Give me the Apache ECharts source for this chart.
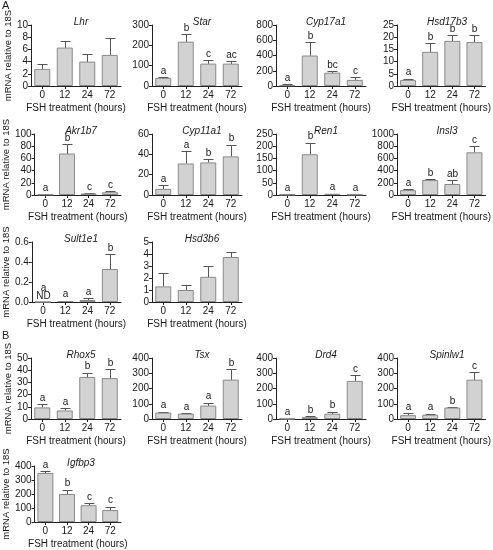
<!DOCTYPE html>
<html><head><meta charset="utf-8">
<script src="https://cdn.jsdelivr.net/npm/echarts@6/dist/echarts.min.js"></script>
<style>html,body{margin:0;padding:0;background:#fff}#c{width:493px;height:550px}</style>
</head><body><div id="c"></div>
<script>
const categories = ['0', '12', '24', '72'];
const genes = ['Lhr','Star','Cyp17a1','Hsd17b3','Akr1b7','Cyp11a1','Ren1','Insl3','Sult1e1','Hsd3b6','Rhox5','Tsx','Drd4','Spinlw1','Igfbp3'];
const means = [
  [2.8, 6.3, 4.0, 5.1],
  [40, 218, 110, 110],
  [10, 400, 175, 80],
  [2.5, 14, 18.5, 18],
  [1, 68, 2.5, 4.5],
  [6, 31, 32, 38],
  [2, 167, 5, 2],
  [80, 245, 180, 700],
  [0, 0.01, 0.02, 0.33],
  [1.3, 1.0, 2.1, 3.75],
  [9.5, 7, 34.5, 33.5],
  [42, 35, 88, 258],
  [2, 12, 35, 250],
  [25, 28, 75, 258],
  [350, 200, 120, 85]
];
const sems = [
  [0.8, 1.0, 1.2, 2.7],
  [5, 37, 18, 13],
  [10, 175, 25, 40],
  [0.5, 3.5, 2.5, 3],
  [1, 16, 0.5, 1.5],
  [3.5, 12, 3, 11.5],
  [1, 48, 1, 1],
  [15, 20, 65, 100],
  [0, 0.005, 0.02, 0.15],
  [1.1, 0.4, 0.9, 0.4],
  [2.5, 2, 3.5, 7.5],
  [6, 5, 20, 70],
  [1, 5, 13, 40],
  [15, 7, 3, 50],
  [12, 32, 15, 25]
];
const letters = [
  ['', '', '', ''],
  ['a', 'b', 'c', 'ac'],
  ['a', 'b', 'bc', 'c'],
  ['a', 'b', 'b', 'b'],
  ['a', 'b', 'c', 'c'],
  ['a', 'a', 'b', 'b'],
  ['a', 'b', 'a', 'a'],
  ['a', 'b', 'ab', 'c'],
  ['a', 'a', 'a', 'b'],
  ['', '', '', ''],
  ['a', 'a', 'b', 'b'],
  ['a', 'a', 'a', 'b'],
  ['a', 'b', 'b', 'c'],
  ['a', 'a', 'b', 'c'],
  ['a', 'b', 'c', 'c']
];
const notes = [
  ['', '', '', ''], ['', '', '', ''], ['', '', '', ''], ['', '', '', ''],
  ['', '', '', ''], ['', '', '', ''], ['', '', '', ''], ['', '', '', ''],
  ['ND', '', '', ''], ['', '', '', ''], ['', '', '', ''], ['', '', '', ''],
  ['', '', '', ''], ['', '', '', ''], ['', '', '', '']
];
const yMax = [10, 300, 800, 25, 100, 60, 250, 1000, 0.6, 5, 50, 400, 400, 400, 400];
const yStep = [2, 100, 200, 5, 20, 20, 50, 200, 0.2, 1, 10, 100, 100, 100, 100];
const yDecimals = [0, 0, 0, 0, 0, 0, 0, 0, 1, 0, 0, 0, 0, 0, 0];
const panelRow = [0, 0, 0, 0, 1, 1, 1, 1, 2, 2, 3, 3, 3, 3, 4];
const panelCol = [0, 1, 2, 3, 0, 1, 2, 3, 0, 1, 0, 1, 2, 3, 0];
const sectionLabels = ['A', 'B'];
const xAxisTitle = 'FSH treatment (hours)';
const yAxisTitle = 'mRNA relative to 18S';

const rowTop = [25, 134, 242, 358, 466];
const rowH = [61, 61, 60, 61, 60];
const colLeft = [31, 152, 276, 397];
const plotW = 90;
const FONT = 'Liberation Sans, Arial, Helvetica, sans-serif';
const FS = 10;
const TXT = '#1a1a1a';

const chart = echarts.init(document.getElementById('c'), null, {renderer: 'canvas'});
const grid = [], xAxis = [], yAxis = [], series = [], title = [];

genes.forEach((g, i) => {
  const r = panelRow[i], c = panelCol[i];
  grid.push({left: colLeft[c], top: rowTop[r], width: plotW, height: rowH[r], containLabel: false});
  title.push({
    text: g, left: colLeft[c] + plotW / 2, top: rowTop[r] - 13, textAlign: 'center',
    textStyle: {fontFamily: FONT, fontSize: FS, fontStyle: 'italic', fontWeight: 'normal', color: TXT}
  });
  xAxis.push({
    type: 'category', gridIndex: i, data: categories,
    axisLine: {lineStyle: {color: '#222', width: 1}},
    axisTick: {show: true, alignWithLabel: true, length: 3, lineStyle: {color: '#222'}},
    axisLabel: {fontFamily: FONT, fontSize: FS, color: TXT, margin: 4},
    name: xAxisTitle, nameLocation: 'middle', nameGap: 17,
    nameTextStyle: {fontFamily: FONT, fontSize: FS, color: TXT}
  });
  const dec = yDecimals[i];
  yAxis.push({
    type: 'value', gridIndex: i, min: 0, max: yMax[i], interval: yStep[i],
    axisLine: {show: true, lineStyle: {color: '#222', width: 1}},
    axisTick: {show: true, length: 3, lineStyle: {color: '#222'}},
    splitLine: {show: false},
    axisLabel: {fontFamily: FONT, fontSize: FS, color: TXT, margin: 3,
      formatter: v => Number(v).toFixed(dec)},
    name: c === 0 ? yAxisTitle : '', nameLocation: 'middle', nameGap: 18, nameRotate: 90,
    nameTextStyle: {fontFamily: FONT, fontSize: 9.5, color: TXT}
  });
  series.push({
    type: 'bar', xAxisIndex: i, yAxisIndex: i, data: means[i], barWidth: 16,
    itemStyle: {color: '#d2d2d2', borderColor: '#8a8a8a', borderWidth: 1},
    silent: true, animation: false
  });
  const errData = means[i].map((m, k) => [k, m, sems[i][k]]);
  series.push({
    type: 'custom', xAxisIndex: i, yAxisIndex: i, data: errData, animation: false, silent: true,
    renderItem: (params, api) => {
      const k = api.value(0), m = api.value(1), s = api.value(2);
      const base = api.coord([k, m]);
      const top = api.coord([k, m + s]);
      const children = [];
      const x = Math.round(base[0]) + 0.5;
      if (s > 0) {
        const y0 = Math.round(base[1]) + 0.5, y1 = Math.round(top[1]) + 0.5;
        children.push({type: 'line', shape: {x1: x, y1: y0, x2: x, y2: y1}, style: {stroke: '#555', lineWidth: 1}});
        children.push({type: 'line', shape: {x1: x - 5, y1: y1, x2: x + 5, y2: y1}, style: {stroke: '#555', lineWidth: 1}});
      }
      const note = notes[i][k];
      let yText = Math.min(top[1], base[1]) - 1;
      if (note) {
        children.push({type: 'text', style: {text: note, x: x, y: base[1] - 1, textAlign: 'center', textVerticalAlign: 'bottom',
          font: FS + 'px ' + FONT, fill: TXT}});
        yText = base[1] - 9;
      }
      const lt = letters[i][k];
      if (lt) {
        children.push({type: 'text', style: {text: lt, x: x, y: yText, textAlign: 'center', textVerticalAlign: 'bottom',
          font: FS + 'px ' + FONT, fill: TXT}});
      }
      return {type: 'group', children};
    }
  });
});

const graphic = [
  {type: 'text', left: 2, top: 0, style: {text: sectionLabels[0], font: '11px ' + FONT, fill: TXT}},
  {type: 'text', left: 2, top: 330, style: {text: sectionLabels[1], font: '11px ' + FONT, fill: TXT}}
];

chart.setOption({animation: false, title, grid, xAxis, yAxis, series, graphic});
</script></body></html>
